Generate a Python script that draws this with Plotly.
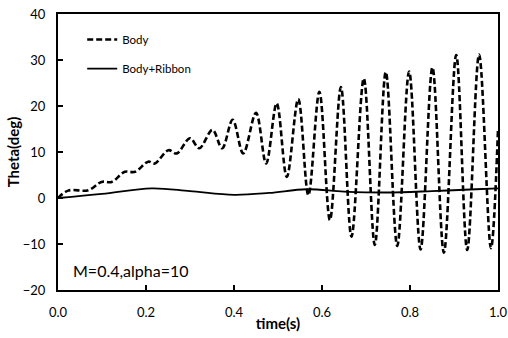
import plotly.graph_objects as go

# Body (dashed): peaks/troughs and plateau points
body_t = [0.0, 0.023, 0.069, 0.099, 0.122, 0.152, 0.175, 0.205, 0.22, 0.251, 0.27,
          0.300, 0.321, 0.351, 0.373, 0.397, 0.421, 0.450, 0.473, 0.497, 0.520,
          0.546, 0.569, 0.594, 0.618, 0.643, 0.667, 0.695, 0.720, 0.745, 0.771,
          0.798, 0.824, 0.851, 0.877, 0.905, 0.930, 0.957, 0.984, 1.0]
body_theta = [0.0, 1.6, 1.7, 3.5, 3.5, 5.7, 5.7, 7.9, 7.5, 10.4, 9.7,
              13.0, 10.8, 14.8, 10.8, 17.0, 9.7, 18.5, 7.5, 20.6, 4.6,
              21.5, 0.6, 23.1, -4.8, 24.1, -8.4, 26.0, -10.2, 27.4, -10.4,
              27.5, -11.2, 28.4, -11.9, 31.1, -11.3, 31.2, -10.9, 15.0]

# Body+Ribbon (solid)
rib_t = [0.0, 0.1, 0.213, 0.3, 0.40, 0.48, 0.565, 0.65, 0.75, 0.85, 0.95, 1.0]
rib_theta = [0.0, 0.9, 2.1, 1.5, 0.7, 1.1, 1.9, 1.4, 1.2, 1.5, 1.9, 2.1]

x_ticks = [0.0, 0.2, 0.4, 0.6, 0.8, 1.0]
x_ticklabels = ["0.0", "0.2", "0.4", "0.6", "0.8", "1.0"]
y_ticks = [-20, -10, 0, 10, 20, 30, 40]

FONT = "Lato"

fig = go.Figure()
fig.add_trace(go.Scatter(x=body_t, y=body_theta, mode="lines", name="Body",
                         legendgroup="a",
                         line=dict(color="black", width=2.6, dash="6px,3px",
                                   shape="spline", smoothing=1.0)))
fig.add_trace(go.Scatter(x=rib_t, y=rib_theta, mode="lines", name="Body+Ribbon",
                         legendgroup="b",
                         line=dict(color="black", width=1.8, shape="spline", smoothing=1.0)))

axis_common = dict(showline=True, linecolor="black", linewidth=2, mirror=True,
                   showgrid=False, zeroline=False, ticks="inside", ticklen=5,
                   tickwidth=1.5, tickcolor="black", automargin=False)

fig.update_xaxes(range=[0, 1.0], tickvals=x_ticks, ticktext=x_ticklabels,
                 title=dict(text="<b>time(s)</b>", font=dict(family=FONT, size=15, color="black"),
                            standoff=0),
                 tickfont=dict(family=FONT, size=13, color="black"),
                 ticklabelstandoff=9, **axis_common)
fig.update_yaxes(range=[-20, 40], tickvals=y_ticks,
                 title=dict(text="<b>Theta(deg)</b>", font=dict(family=FONT, size=15, color="black"),
                            standoff=0),
                 tickfont=dict(family=FONT, size=13, color="black"),
                 ticklabelstandoff=8, **axis_common)

fig.add_annotation(x=0.03, y=-15.8, xref="x", yref="y", xanchor="left", yanchor="middle",
                   text="M=0.4,alpha=10", showarrow=False,
                   font=dict(family=FONT, size=16, color="black"))

fig.update_layout(
    width=508, height=338,
    margin=dict(l=58, r=10, t=14, b=48),
    paper_bgcolor="white", plot_bgcolor="white",
    legend=dict(x=0.055, y=0.96, xanchor="left", yanchor="top",
                bgcolor="rgba(0,0,0,0)", font=dict(family=FONT, size=11.5, color="black"),
                tracegroupgap=10, itemwidth=30),
    showlegend=True,
)

fig.write_html("out.html")
